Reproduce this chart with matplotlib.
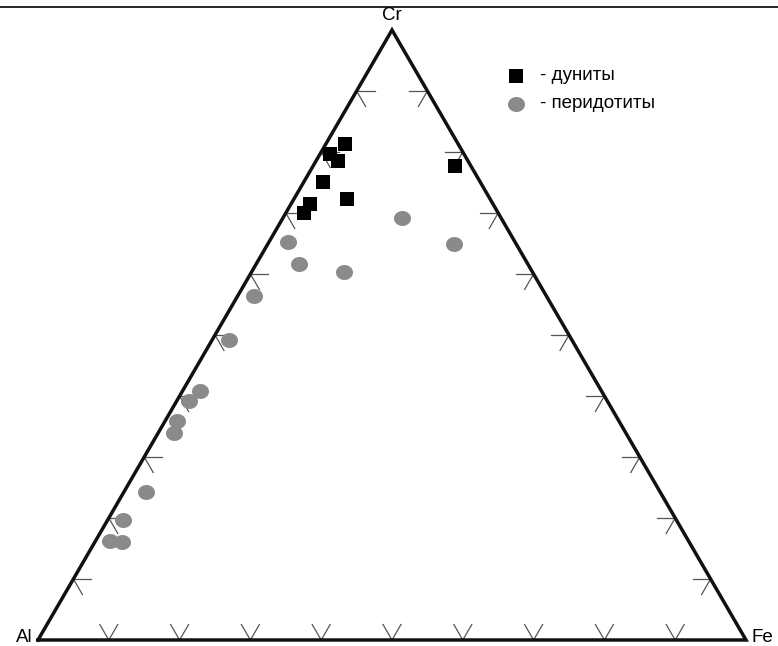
import numpy as np
import matplotlib
matplotlib.use("Agg")
import matplotlib.pyplot as plt
from matplotlib.path import Path

plt.rcParams['font.family'] = ['Liberation Sans', 'DejaVu Sans']

# Compositions, % (Cr, Fe, Al sum to 100)
dunite_cr = [81.3, 79.7, 78.6, 75.0, 71.5, 70.0, 72.3, 77.7]
dunite_fe = [2.7, 1.4, 3.1, 2.8, 2.7, 2.5, 7.5, 20.0]
dunite_al = [100 - c - f for c, f in zip(dunite_cr, dunite_fe)]

perid_cr = [69.1, 64.9, 65.3, 61.6, 60.3, 56.4, 49.2, 40.9, 39.2, 35.9,
            34.0, 24.2, 19.6, 16.2, 16.0]
perid_fe = [16.8, 26.3, 2.6, 6.0, 13.1, 2.3, 2.4, 2.4, 1.7, 1.7,
            2.2, 3.1, 2.2, 2.0, 3.8]
perid_al = [100 - c - f for c, f in zip(perid_cr, perid_fe)]

vertex_labels = ["Al", "Fe", "Cr"]
legend_labels = ["- дуниты", "- перидотиты"]
tick_fracs = [k / 10 for k in range(1, 10)]

H = np.sqrt(3) / 2


def to_xy(cr, fe, al):
    cr = np.asarray(cr, float)
    fe = np.asarray(fe, float)
    al = np.asarray(al, float)
    tot = cr + fe + al
    c, f = cr / tot, fe / tot
    return f + c / 2, c * H


W_PX, H_PX = 778, 646
fig = plt.figure(figsize=(W_PX / 100, H_PX / 100), dpi=100)
ax = fig.add_axes([0, 0, 1, 1])
# pixel layout: Al at (38, 640), Fe at (746, 640), Cr at (392, 30)
sx = 708.0
sy = 610.0 / H
ax.set_xlim(-38 / sx, (W_PX - 38) / sx)
ax.set_ylim(-(H_PX - 640) / sy, 640 / sy)
ax.axis("off")

# triangle frame
tri_x = [0, 1, 0.5, 0]
tri_y = [0, 0, H, 0]
ax.plot(tri_x, tri_y, color="#111111", lw=2.5, solid_joinstyle="miter",
        zorder=3)

# edge ticks
L = 18 / sx
tick_kw = dict(color="#555555", lw=0.9, zorder=2)
for t in tick_fracs:
    # Al–Cr edge
    x0, y0 = t / 2, t * H
    ax.plot([x0, x0 + L], [y0, y0], **tick_kw)
    ax.plot([x0, x0 + 0.5 * L], [y0, y0 - H * L], **tick_kw)
    # Fe–Cr edge
    x0, y0 = 1 - t / 2, t * H
    ax.plot([x0, x0 - L], [y0, y0], **tick_kw)
    ax.plot([x0, x0 - 0.5 * L], [y0, y0 - H * L], **tick_kw)
    # Al–Fe edge
    x0, y0 = t, 0
    ax.plot([x0 - 0.5 * L, x0, x0 + 0.5 * L], [H * L, 0, H * L], **tick_kw)

# data
th = np.linspace(0, 2 * np.pi, 60)
ellipse = Path(np.column_stack([np.cos(th), 0.88 * np.sin(th)]), closed=True)

dx, dy = to_xy(perid_cr, perid_fe, perid_al)
ax.scatter(dx, dy, marker=ellipse, s=150, color="#8a8a8a", lw=0, zorder=4)
dx, dy = to_xy(dunite_cr, dunite_fe, dunite_al)
ax.scatter(dx, dy, marker="s", s=92, color="black", lw=0, zorder=5)

# vertex labels
ax.text(-0.008, 0.004, vertex_labels[0], ha="right", va="center",
        fontsize=13.5)
ax.text(1.008, 0.004, vertex_labels[1], ha="left", va="center",
        fontsize=13.5)
ax.text(0.5, H + 15 / sy, vertex_labels[2], ha="center", va="center",
        fontsize=13.5)

# legend
lx = (516 - 38) / sx
for i, (lab, mk, col, sz) in enumerate(
        [(legend_labels[0], "s", "black", 92),
         (legend_labels[1], ellipse, "#8a8a8a", 150)]):
    ly = (640 - (76 + 28 * i)) / sy
    ax.scatter([lx], [ly], marker=mk, s=sz, color=col, lw=0)
    ax.text(lx + 24 / sx, ly, lab, ha="left", va="center", fontsize=13.5)

# rule across the top
fig.add_artist(plt.Line2D([0, 1], [1 - 7 / H_PX, 1 - 7 / H_PX],
                          transform=fig.transFigure, color="black", lw=1.2))

fig.savefig("out.png", dpi=100)
